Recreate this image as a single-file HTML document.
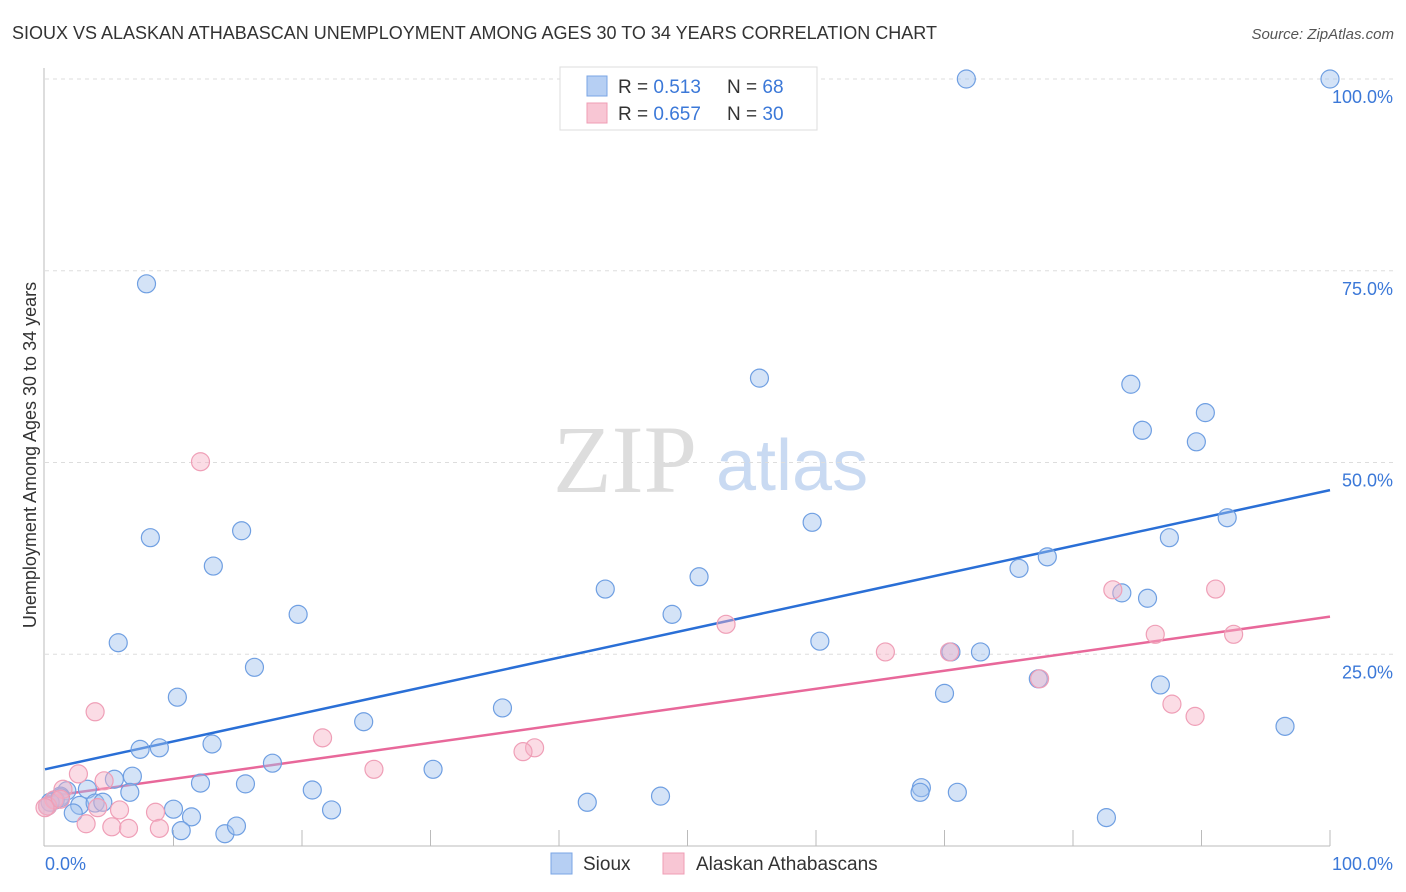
<!DOCTYPE html>
<html><head><meta charset="utf-8"><style>
body{margin:0;background:#fff;font-family:"Liberation Sans",sans-serif;}
svg{display:block}
</style></head><body>
<svg id="chart" width="1406" height="892" xmlns="http://www.w3.org/2000/svg">
<text x="12" y="39" font-size="18" fill="#333">SIOUX VS ALASKAN ATHABASCAN UNEMPLOYMENT AMONG AGES 30 TO 34 YEARS CORRELATION CHART</text>
<text x="1394" y="39" font-size="15" font-style="italic" fill="#555" text-anchor="end">Source: ZipAtlas.com</text>
<g>
<text x="553" y="492" font-family="Liberation Serif,serif" font-size="96" fill="#ddd">ZIP</text>
<text x="716" y="490" font-size="72" fill="#c9daf2">atlas</text>
</g>
<g id="grid"></g>
<g id="axes"></g>
<g id="lines"></g>
<g id="points"></g>
<text x="36" y="455" font-size="18" fill="#333" text-anchor="middle" transform="rotate(-90 36 455)">Unemployment Among Ages 30 to 34 years</text>
<text x="45" y="870" font-size="18" fill="#3b78d8">0.0%</text>
<text x="1393" y="870" font-size="18" fill="#3b78d8" text-anchor="end">100.0%</text>
<g>
<rect x="560" y="67" width="257" height="63" fill="#fff" stroke="#ddd"/>
<rect x="587" y="76" width="20" height="20" fill="#b6cff3" stroke="#7aa5e4"/>
<rect x="587" y="103" width="20" height="20" fill="#f8c6d4" stroke="#ef9db5"/>
<text x="618" y="93" font-size="19" fill="#333">R = <tspan fill="#3b78d8">0.513</tspan><tspan x="727">N = </tspan><tspan fill="#3b78d8">68</tspan></text>
<text x="618" y="120" font-size="19" fill="#333">R = <tspan fill="#3b78d8">0.657</tspan><tspan x="727">N = </tspan><tspan fill="#3b78d8">30</tspan></text>
</g>
<g>
<rect x="551" y="853" width="21" height="21" fill="#b6cff3" stroke="#7aa5e4"/>
<text x="583" y="870" font-size="19" fill="#333">Sioux</text>
</g>
<g>
<rect x="663" y="853" width="21" height="21" fill="#f8c6d4" stroke="#ef9db5"/>
<text x="696" y="870" font-size="19" fill="#333">Alaskan Athabascans</text>
</g>
</svg>
<script>
const yTicks=[25,50,75,100];
const yTickLabels=["25.0%","50.0%","75.0%","100.0%"];
const xTicks=[10,20,30,40,50,60,70,80,90,100];
const siouxX=[7.9,8.2,5.7,15.3,13.1,19.7,16.3,10.3,7.4,8.9,13.0,24.8,17.7,12.1,15.6,20.8,22.3,30.2,35.6,43.6,50.9,48.8,55.6,59.7,60.3,71.7,100,84.5,85.4,90.3,89.6,92.0,87.5,78.0,75.8,83.8,85.8,70.5,72.8,70.0,86.8,77.3,96.5,68.2,68.1,71.0,47.9,42.2,82.6,10.0,11.4,10.6,14.0,14.9,6.8,5.4,6.6,3.3,1.7,1.2,0.8,0.4,2.7,3.9,4.5,2.2,0.2,1.2];
const siouxY=[73.3,40.2,26.5,41.1,36.5,30.2,23.3,19.4,12.6,12.8,13.3,16.2,10.8,8.2,8.1,7.3,4.7,10.0,18.0,33.5,35.1,30.2,61.0,42.2,26.7,100,100,60.2,54.2,56.5,52.7,42.8,40.2,37.7,36.2,33.0,32.3,25.3,25.3,19.9,21.0,21.8,15.6,7.6,7.0,7.0,6.5,5.7,3.7,4.8,3.8,2.0,1.6,2.6,9.1,8.7,7.0,7.4,7.2,6.5,6.0,5.7,5.3,5.6,5.7,4.3,5.2,6.3];
const athX=[12.1,3.9,53.0,21.6,25.6,38.1,37.2,65.4,70.4,77.4,83.1,91.1,86.4,92.5,87.7,89.5,2.6,4.6,1.4,0.7,4.1,5.8,3.2,5.2,6.5,8.6,8.9,0.2,1.2,0];
const athY=[50.1,17.5,28.9,14.1,10.0,12.8,12.3,25.3,25.3,21.8,33.4,33.5,27.6,27.6,18.5,16.9,9.4,8.5,7.4,6.0,5.0,4.7,2.9,2.5,2.3,4.4,2.3,5.2,6.1,5.0];
const siouxTrend=[10.0,46.4];
const athTrend=[6.4,29.9];
const NS="http://www.w3.org/2000/svg";
const X=v=>45+v*12.85, Y=v=>846-v*7.67;
function mk(tag,attrs,parent){const e=document.createElementNS(NS,tag);for(const k in attrs)e.setAttribute(k,attrs[k]);document.getElementById(parent).appendChild(e);return e;}
yTicks.forEach((t,i)=>{
 const l=mk('line',{x1:45,x2:1393,y1:Y(t),y2:Y(t),stroke:'#ddd','stroke-dasharray':'4,4'},'grid');
 
 
 const tx=mk('text',{x:1393,y:Y(t)+24,'font-size':18,fill:'#3b78d8','text-anchor':'end'},'grid');
 tx.textContent=yTickLabels[i];
 
 
});
const ax=mk('line',{x1:44,x2:44,y1:68,y2:846,stroke:'#bbb'},'axes');


const bx=mk('line',{x1:44,x2:1330,y1:846,y2:846,stroke:'#bbb'},'axes');


xTicks.forEach(t=>{
 const l=mk('line',{x1:X(t),x2:X(t),y1:830,y2:846,stroke:'#bbb'},'axes');
 
 
});
function pts(xs,ys,fill,stroke,name){
 xs.forEach((x,i)=>{
  const c=mk('circle',{cx:X(x),cy:Y(ys[i]),r:9,fill:fill,stroke:stroke,'stroke-width':1.2},'points');
  
  
 });
}
pts(siouxX,siouxY,'rgba(160,192,238,0.45)','#6f9fe2','sioux-point');
pts(athX,athY,'rgba(246,178,198,0.45)','#ef9fb7','athabascan-point');
const t1=mk('line',{x1:X(0),y1:Y(siouxTrend[0]),x2:X(100),y2:Y(siouxTrend[1]),stroke:'#2a6fd6','stroke-width':2.5},'lines');


const t2=mk('line',{x1:X(0),y1:Y(athTrend[0]),x2:X(100),y2:Y(athTrend[1]),stroke:'#e8689a','stroke-width':2.5},'lines');


</script>
</body></html>
